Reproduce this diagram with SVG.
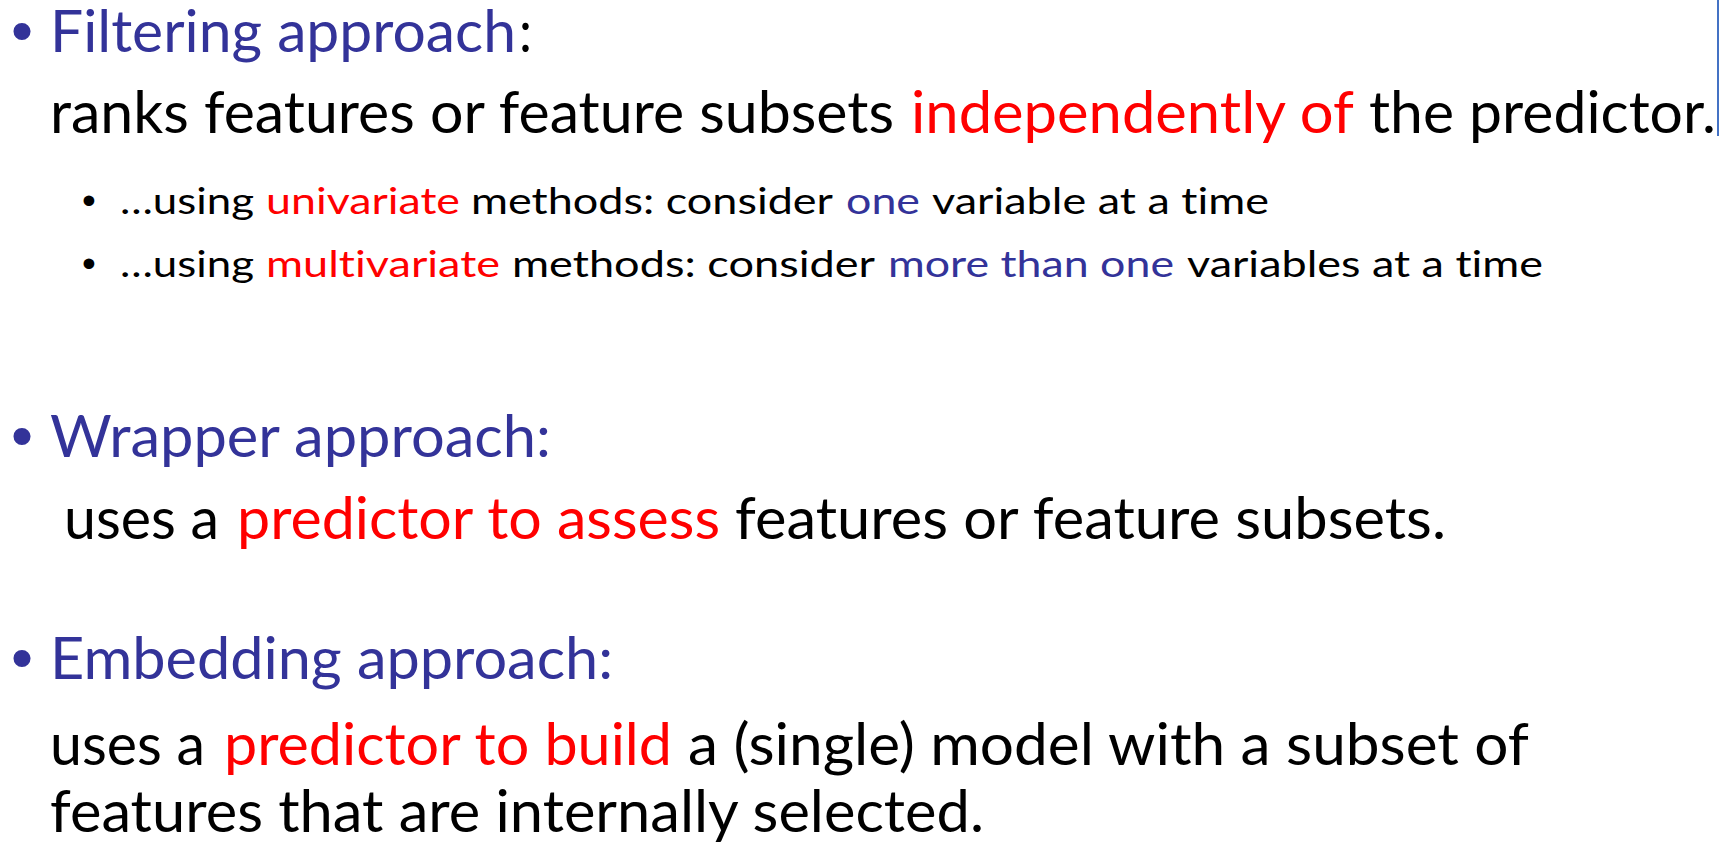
<svg xmlns="http://www.w3.org/2000/svg" width="1736" height="842" viewBox="0 0 1736 842">
  <style>
    text { font-family: Lato, "Open Sans", "Liberation Sans", sans-serif; font-variant-ligatures: none; font-feature-settings: "liga" 0, "clig" 0; }
    .h { font-size: 58px; }
    .s { font-size: 36.5px; }
    .blue { fill: #333399; }
    .red { fill: #FF0000; }
    .blk { fill: #000000; }
    .dot { font-family: "Liberation Sans", Arial, sans-serif; text-anchor: middle; fill: #333399; }
    .dot.sub { fill: #000000; font-size: 39.5px; }
    .dot.main { font-size: 63px; }
  </style>
  <rect x="0" y="0" width="1736" height="842" fill="#ffffff"/>

  <!-- Filtering approach -->
  <g id="filtering">
    <text class="dot main" x="22" y="52">•</text>
    <text class="h blue" x="50" y="52" textLength="466" lengthAdjust="spacingAndGlyphs">Filtering approach</text>
    <text class="h blk" x="519" y="52" textLength="13" lengthAdjust="spacingAndGlyphs">:</text>

    <text class="h blk" x="50" y="133" textLength="844" lengthAdjust="spacingAndGlyphs">ranks features or feature subsets</text>
    <text class="h red" x="911" y="133" textLength="443" lengthAdjust="spacingAndGlyphs">independently of</text>
    <text class="h blk" x="1369" y="133" textLength="347" lengthAdjust="spacingAndGlyphs">the predictor.</text>

    <g id="univariate">
      <text class="dot sub" x="89" y="214">•</text>
      <text class="s blk" x="120" y="214" textLength="134" lengthAdjust="spacingAndGlyphs">…using</text>
      <text class="s red" x="266" y="214" textLength="194" lengthAdjust="spacingAndGlyphs">univariate</text>
      <text class="s blk" x="471" y="214" textLength="362" lengthAdjust="spacingAndGlyphs">methods: consider</text>
      <text class="s blue" x="846" y="214" textLength="74" lengthAdjust="spacingAndGlyphs">one</text>
      <text class="s blk" x="932" y="214" textLength="337" lengthAdjust="spacingAndGlyphs">variable at a time</text>
    </g>

    <g id="multivariate">
      <text class="dot sub" x="89" y="277">•</text>
      <text class="s blk" x="120" y="277" textLength="134" lengthAdjust="spacingAndGlyphs">…using</text>
      <text class="s red" x="266" y="277" textLength="234" lengthAdjust="spacingAndGlyphs">multivariate</text>
      <text class="s blk" x="512" y="277" textLength="363" lengthAdjust="spacingAndGlyphs">methods: consider</text>
      <text class="s blue" x="888" y="277" textLength="286" lengthAdjust="spacingAndGlyphs">more than one</text>
      <text class="s blk" x="1187" y="277" textLength="356" lengthAdjust="spacingAndGlyphs">variables at a time</text>
    </g>
  </g>

  <!-- text cursor at the end of the first paragraph -->
  <line x1="1718" y1="0" x2="1718" y2="136" stroke="#4472C4" stroke-width="2"/>

  <!-- Wrapper approach -->
  <g id="wrapper">
    <text class="dot main" x="22" y="457">•</text>
    <text class="h blue" x="50" y="457" textLength="501" lengthAdjust="spacingAndGlyphs">Wrapper approach:</text>
    <text class="h blk" x="64" y="539" textLength="155" lengthAdjust="spacingAndGlyphs">uses a</text>
    <text class="h red" x="237" y="539" textLength="483" lengthAdjust="spacingAndGlyphs">predictor to assess</text>
    <text class="h blk" x="735" y="539" textLength="711" lengthAdjust="spacingAndGlyphs">features or feature subsets.</text>
  </g>

  <!-- Embedding approach -->
  <g id="embedding">
    <text class="dot main" x="22" y="679">•</text>
    <text class="h blue" x="50" y="679" textLength="563" lengthAdjust="spacingAndGlyphs">Embedding approach:</text>
    <text class="h blk" x="50" y="765" textLength="155" lengthAdjust="spacingAndGlyphs">uses a</text>
    <text class="h red" x="224" y="765" textLength="448" lengthAdjust="spacingAndGlyphs">predictor to build</text>
    <text class="h blk" x="688" y="765" textLength="841" lengthAdjust="spacingAndGlyphs">a (single) model with a subset of</text>
    <text class="h blk" x="50" y="832" textLength="934" lengthAdjust="spacingAndGlyphs">features that are internally selected.</text>
  </g>
</svg>
